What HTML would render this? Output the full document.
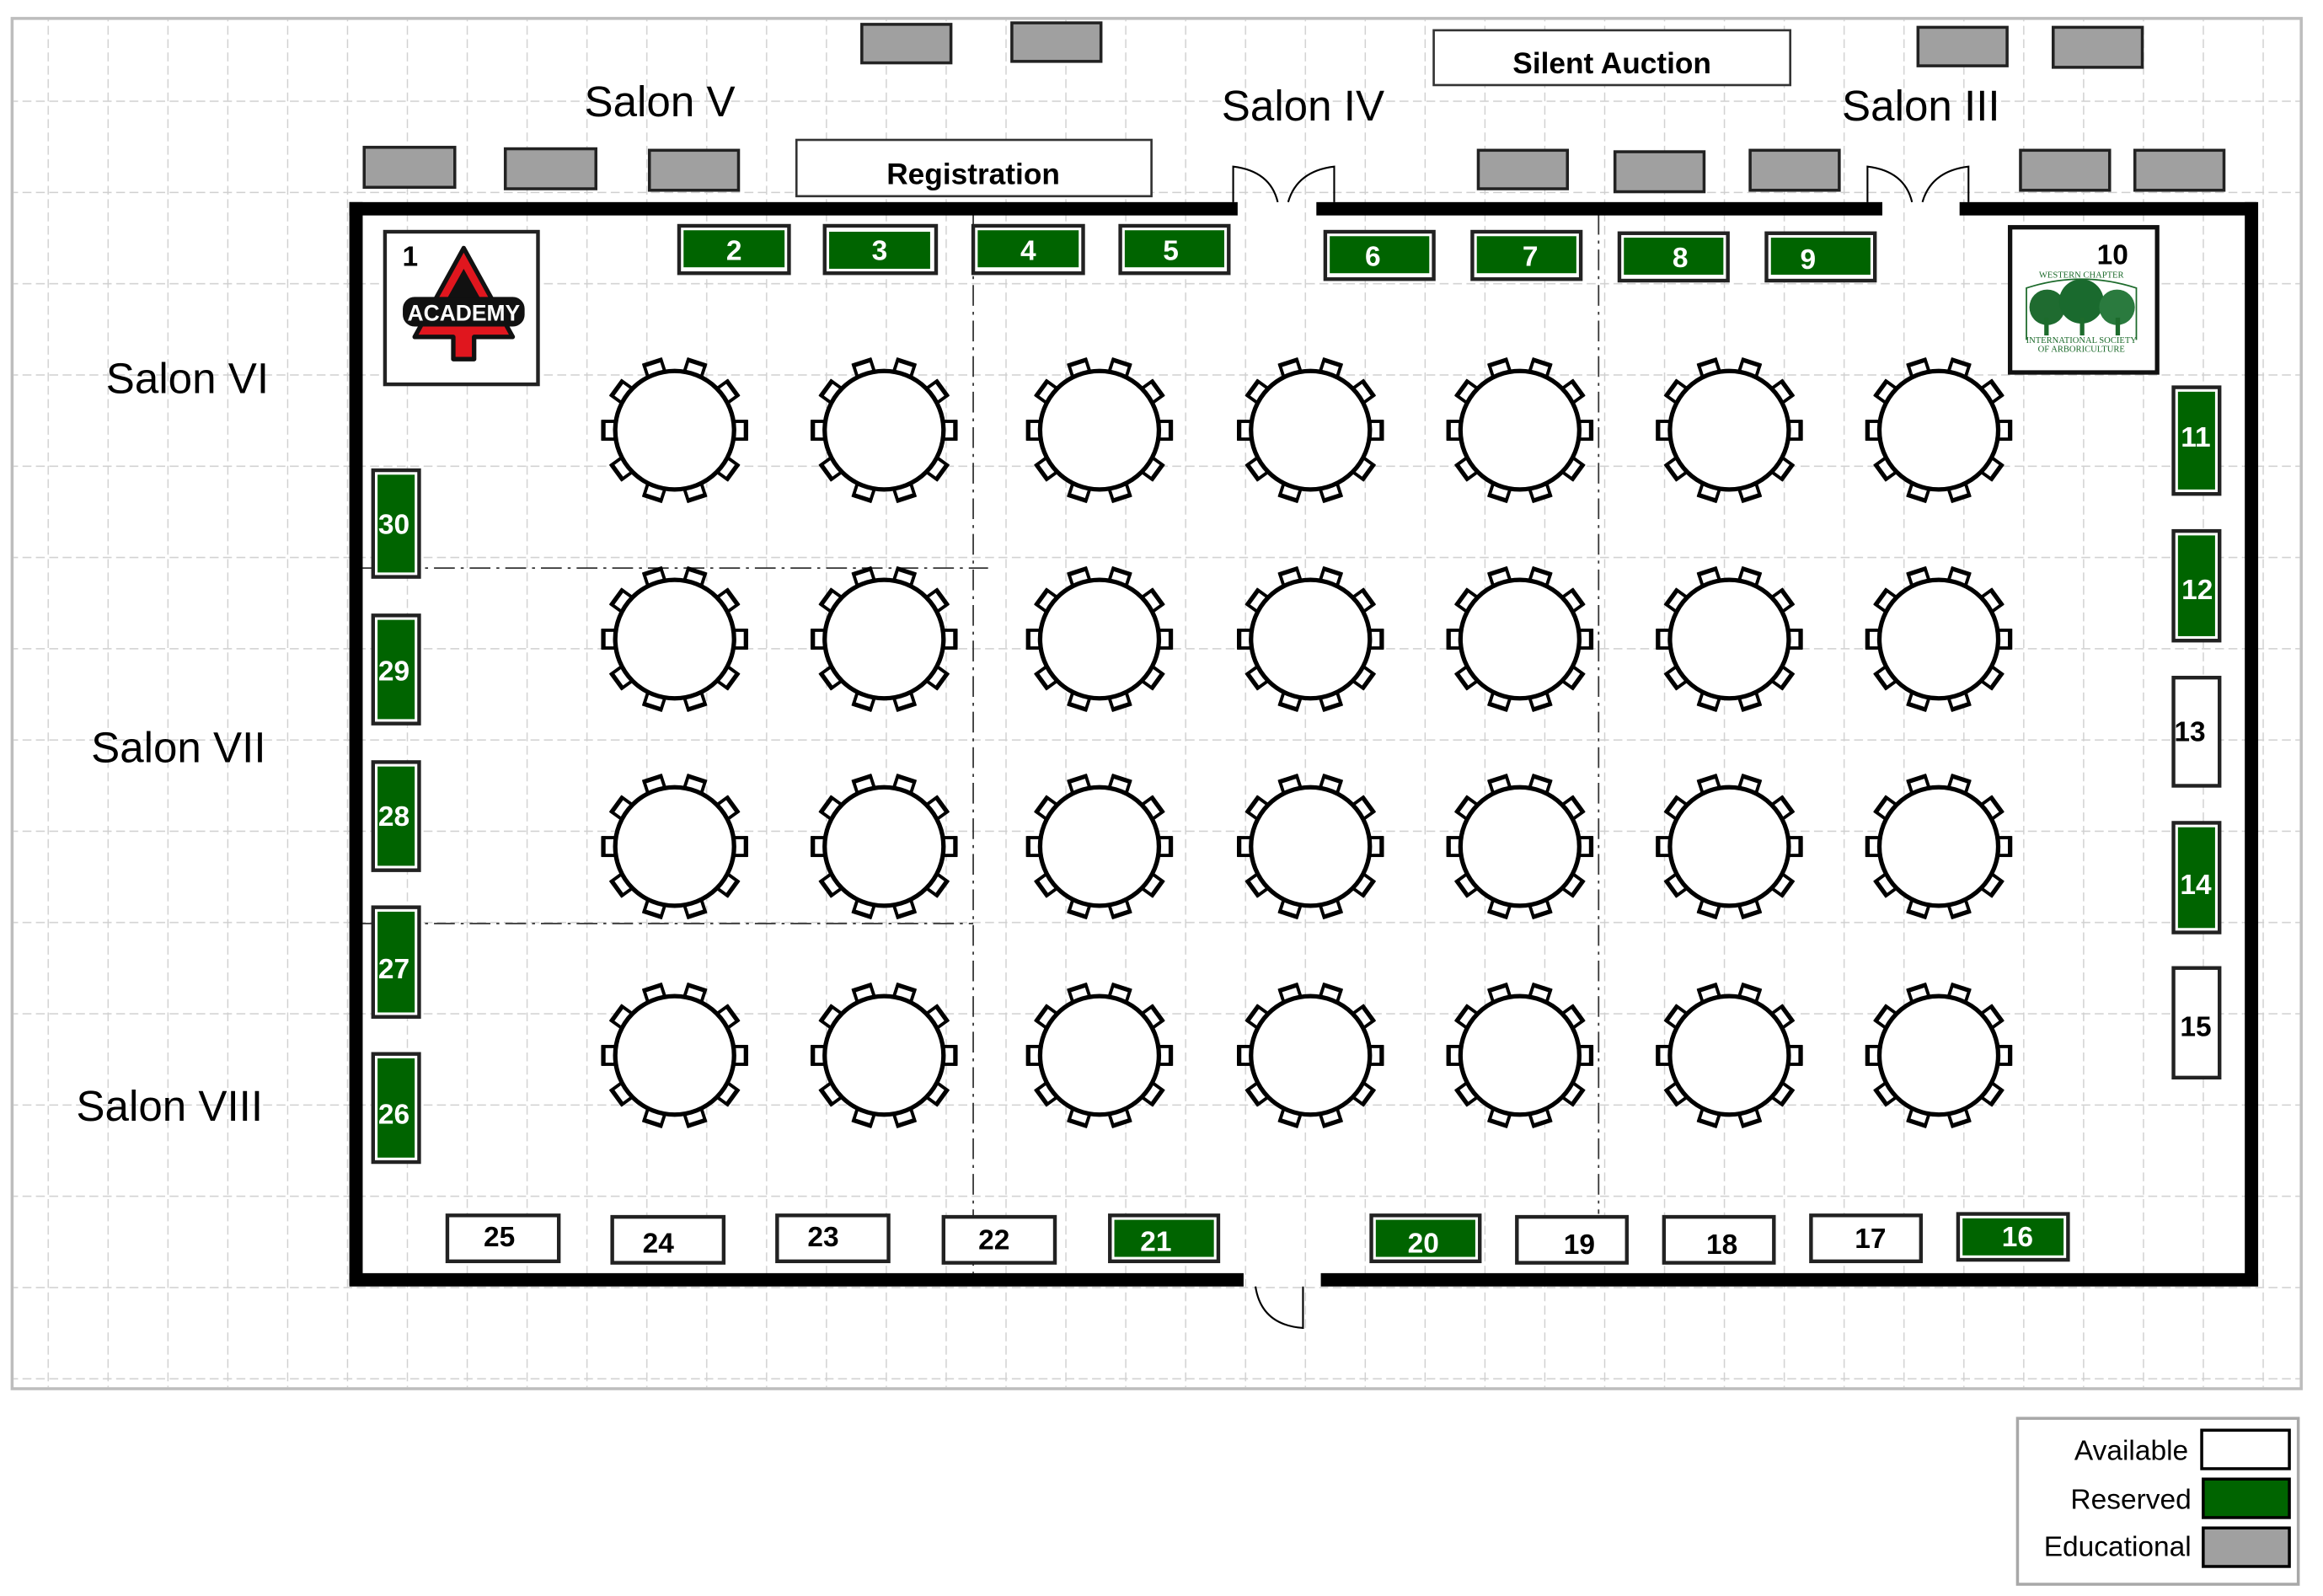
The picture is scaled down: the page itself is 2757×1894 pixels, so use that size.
<!DOCTYPE html>
<html><head><meta charset="utf-8"><style>
html,body{margin:0;padding:0;background:#fff;}
svg{display:block;}
text{font-family:"Liberation Sans",sans-serif;}
.b{font-weight:bold;font-size:19px;text-anchor:middle;}
.w{fill:#fff;}
.salon{font-size:29px;text-anchor:middle;}
</style></head><body>
<svg width="2757" height="1894" viewBox="0 0 2757 1894" xmlns="http://www.w3.org/2000/svg">
<defs>
<pattern id="gv" patternUnits="userSpaceOnUse" x="276.6" y="0" width="40.3" height="2000">
<line x1="0.5" y1="0" x2="0.5" y2="2000" stroke="#cfcfcf" stroke-width="0.8" stroke-dasharray="6,3"/>
</pattern>
<pattern id="gh" patternUnits="userSpaceOnUse" x="0" y="130" width="2000" height="61.6">
<line x1="0" y1="0.5" x2="2000" y2="0.5" stroke="#cfcfcf" stroke-width="0.8" stroke-dasharray="6,3"/>
</pattern>
<g id="chair">
<rect x="40" y="-6" width="8" height="12" fill="#fff" stroke="#000" stroke-width="2.2"/>
<line x1="48" y1="-7" x2="48" y2="7" stroke="#000" stroke-width="3"/>
</g>
<g id="tbl">
<use href="#chair" transform="rotate(0)"/><use href="#chair" transform="rotate(36)"/>
<use href="#chair" transform="rotate(72)"/><use href="#chair" transform="rotate(108)"/>
<use href="#chair" transform="rotate(144)"/><use href="#chair" transform="rotate(180)"/>
<use href="#chair" transform="rotate(216)"/><use href="#chair" transform="rotate(252)"/>
<use href="#chair" transform="rotate(288)"/><use href="#chair" transform="rotate(324)"/>
<circle r="40" fill="#fff" stroke="#000" stroke-width="3"/>
</g>
</defs>
<rect width="2757" height="1894" fill="#fff"/>
<g transform="translate(-5,-1) scale(1.763,1.758)">
<rect x="11" y="13" width="1541" height="925" fill="#fff" stroke="#bdbdbd" stroke-width="2"/>
<rect x="12" y="14" width="1539" height="923" fill="url(#gv)"/>
<rect x="12" y="14" width="1539" height="923" fill="url(#gh)"/>
<g stroke="#333" stroke-width="1" stroke-dasharray="14,4,2,4" fill="none">
<line x1="658" y1="145" x2="658" y2="860"/>
<line x1="1079" y1="145" x2="1079" y2="820"/>
<line x1="247" y1="384" x2="668" y2="384"/>
<line x1="247" y1="624" x2="658" y2="624"/>
</g>
<g fill="#000">
<rect x="238" y="137" width="598" height="9"/>
<rect x="889" y="137" width="381" height="9"/>
<rect x="1322" y="137" width="200" height="9"/>
<rect x="238" y="137" width="9" height="731"/>
<rect x="1514" y="137" width="9" height="731"/>
<rect x="238" y="860" width="602" height="9"/>
<rect x="892" y="860" width="631" height="9"/>
</g>
<g fill="none" stroke="#000" stroke-width="1.2">
<path d="M833 137 V113 Q858 116 863 137"/>
<path d="M901 137 V113 Q876 116 870 137"/>
<path d="M1260 137 V113 Q1285 116 1290 137"/>
<path d="M1328 137 V113 Q1303 116 1297 137"/>
<path d="M848 869 Q852 895 880 897 V869"/>
</g>
<g>
<use href="#tbl" x="457" y="291"/><use href="#tbl" x="598" y="291"/><use href="#tbl" x="743" y="291"/><use href="#tbl" x="885" y="291"/><use href="#tbl" x="1026" y="291"/><use href="#tbl" x="1167" y="291"/><use href="#tbl" x="1308" y="291"/>
<use href="#tbl" x="457" y="432"/><use href="#tbl" x="598" y="432"/><use href="#tbl" x="743" y="432"/><use href="#tbl" x="885" y="432"/><use href="#tbl" x="1026" y="432"/><use href="#tbl" x="1167" y="432"/><use href="#tbl" x="1308" y="432"/>
<use href="#tbl" x="457" y="572"/><use href="#tbl" x="598" y="572"/><use href="#tbl" x="743" y="572"/><use href="#tbl" x="885" y="572"/><use href="#tbl" x="1026" y="572"/><use href="#tbl" x="1167" y="572"/><use href="#tbl" x="1308" y="572"/>
<use href="#tbl" x="457" y="713"/><use href="#tbl" x="598" y="713"/><use href="#tbl" x="743" y="713"/><use href="#tbl" x="885" y="713"/><use href="#tbl" x="1026" y="713"/><use href="#tbl" x="1167" y="713"/><use href="#tbl" x="1308" y="713"/>
</g>
<g fill="#a0a0a0" stroke="#222" stroke-width="2">
<rect x="583" y="17" width="60" height="26"/><rect x="684" y="16" width="60" height="26"/>
<rect x="1294" y="19" width="60" height="26"/><rect x="1385" y="19" width="60" height="27"/>
<rect x="248" y="100" width="61" height="27"/><rect x="343" y="101" width="61" height="27"/><rect x="440" y="102" width="60" height="27"/>
<rect x="998" y="102" width="60" height="26"/><rect x="1090" y="103" width="60" height="27"/><rect x="1181" y="102" width="60" height="27"/>
<rect x="1363" y="102" width="60" height="27"/><rect x="1440" y="102" width="60" height="27"/>
</g>
<rect x="539" y="95" width="239" height="38" fill="#fff" stroke="#333" stroke-width="1.5"/>
<text x="658" y="125" style="font-size:20px;font-weight:bold;text-anchor:middle">Registration</text>
<rect x="968" y="21" width="240" height="37" fill="#fff" stroke="#333" stroke-width="1.5"/>
<text x="1088" y="50" style="font-size:20px;font-weight:bold;text-anchor:middle">Silent  Auction</text>
<text class="salon" x="447" y="79">Salon V</text>
<text class="salon" x="880" y="82">Salon IV</text>
<text class="salon" x="1296" y="82">Salon III</text>
<text class="salon" x="129" y="266">Salon VI</text>
<text class="salon" x="123" y="515">Salon VII</text>
<text class="salon" x="117" y="757">Salon VIII</text>
<g stroke="#222" stroke-width="2.5" fill="#fff">
<rect x="460" y="153" width="74" height="32"/><rect x="558" y="153" width="75" height="32"/><rect x="658" y="153" width="74" height="32"/><rect x="757" y="153" width="73" height="32"/>
<rect x="895" y="157" width="73" height="32"/><rect x="994" y="157" width="73" height="32"/><rect x="1093" y="158" width="73" height="32"/><rect x="1192" y="158" width="73" height="32"/>
<rect x="1466" y="262" width="31" height="72"/><rect x="1466" y="359" width="31" height="74"/><rect x="1466" y="458" width="31" height="73"/><rect x="1466" y="556" width="31" height="74"/><rect x="1466" y="654" width="31" height="74"/>
<rect x="254" y="318" width="31" height="72"/><rect x="254" y="416" width="31" height="73"/><rect x="254" y="515" width="31" height="73"/><rect x="254" y="613" width="31" height="74"/><rect x="254" y="712" width="31" height="73"/>
<rect x="304" y="821" width="75" height="31"/><rect x="415" y="822" width="75" height="31"/><rect x="526" y="821" width="75" height="31"/><rect x="638" y="822" width="75" height="31"/><rect x="750" y="821" width="73" height="31"/>
<rect x="926" y="821" width="73" height="31"/><rect x="1024" y="822" width="74" height="31"/><rect x="1123" y="822" width="74" height="31"/><rect x="1222" y="821" width="74" height="31"/><rect x="1321" y="820" width="74" height="31"/>
</g>
<g fill="#006400">
<rect x="463" y="156" width="68" height="25"/><rect x="561" y="157" width="68" height="25"/><rect x="661" y="156" width="68" height="25"/><rect x="760" y="156" width="67" height="25"/>
<rect x="898" y="160" width="67" height="25"/><rect x="997" y="160" width="67" height="25"/><rect x="1096" y="161" width="67" height="25"/><rect x="1195" y="161" width="67" height="25"/>
<rect x="1469" y="265" width="25" height="66"/><rect x="1469" y="362" width="25" height="68"/><rect x="1469" y="559" width="25" height="68"/>
<rect x="257" y="321" width="25" height="66"/><rect x="257" y="419" width="25" height="67"/><rect x="257" y="518" width="25" height="67"/><rect x="257" y="616" width="25" height="68"/><rect x="257" y="715" width="25" height="67"/>
<rect x="753" y="824" width="67" height="25"/><rect x="929" y="824" width="67" height="25"/><rect x="1324" y="823" width="68" height="25"/>
</g>
<g class="b">
<text class="b w" x="497" y="176">2</text><text class="b w" x="595" y="176">3</text><text class="b w" x="695" y="176">4</text><text class="b w" x="791" y="176">5</text>
<text class="b w" x="927" y="180">6</text><text class="b w" x="1033" y="180">7</text><text class="b w" x="1134" y="181">8</text><text class="b w" x="1220" y="182">9</text>
<text class="b w" x="1481" y="302">11</text><text class="b w" x="1482" y="405">12</text><text class="b" x="1477" y="501">13</text><text class="b w" x="1481" y="604">14</text><text class="b" x="1481" y="700">15</text>
<text class="b w" x="268" y="361">30</text><text class="b w" x="268" y="460">29</text><text class="b w" x="268" y="558">28</text><text class="b w" x="268" y="661">27</text><text class="b w" x="268" y="759">26</text>
<text class="b" x="339" y="842">25</text><text class="b" x="446" y="846">24</text><text class="b" x="557" y="842">23</text><text class="b" x="672" y="844">22</text><text class="b w" x="781" y="845">21</text>
<text class="b w" x="961" y="846">20</text><text class="b" x="1066" y="847">19</text><text class="b" x="1162" y="847">18</text><text class="b" x="1262" y="843">17</text><text class="b w" x="1361" y="842">16</text>
</g>
<rect x="262" y="157" width="103" height="103" fill="#fff" stroke="#222" stroke-width="2.5"/>
<text x="279" y="180" style="font-size:19px;font-weight:bold;text-anchor:middle">1</text>
<path d="M315 168 L348 228 L322 228 L322 243 L308 243 L308 228 L282 228 Z" fill="#e0161e" stroke="#111" stroke-width="3" stroke-linejoin="round"/>
<path d="M315 182 L334 216 L296 216 Z" fill="#111"/>
<rect x="274" y="201" width="82" height="20" rx="8" fill="#111"/>
<text x="315" y="217" style="font-size:15px;font-weight:bold;text-anchor:middle;fill:#fff">ACADEMY</text>
<rect x="1356" y="154" width="99" height="98" fill="#fff" stroke="#111" stroke-width="3"/>
<text x="1425" y="179" style="font-size:19px;font-weight:bold;text-anchor:middle">10</text>
<text x="1404" y="188" style="font-size:6px;font-family:'Liberation Serif',serif;text-anchor:middle;fill:#1d6b2c">WESTERN CHAPTER</text>
<path d="M1367 230 V195 Q1404 183 1441 195 V230" fill="none" stroke="#1d6b2c" stroke-width="1"/>
<circle cx="1381" cy="208" r="12" fill="#1f6b30"/><circle cx="1404" cy="204" r="15" fill="#1a6a2e"/><circle cx="1428" cy="208" r="12" fill="#2a7a3e"/>
<rect x="1379" y="215" width="3" height="12" fill="#1d6b2c"/><rect x="1403" y="215" width="3" height="12" fill="#1d6b2c"/><rect x="1427" y="215" width="3" height="12" fill="#1d6b2c"/>
<text x="1404" y="232" style="font-size:6px;font-family:'Liberation Serif',serif;text-anchor:middle;fill:#1d6b2c">INTERNATIONAL SOCIETY</text>
<text x="1404" y="238" style="font-size:6px;font-family:'Liberation Serif',serif;text-anchor:middle;fill:#1d6b2c">OF ARBORICULTURE</text>
<rect x="1361" y="958" width="189" height="112" fill="#fff" stroke="#a8a8a8" stroke-width="2"/>
<g style="font-size:19px;text-anchor:end">
<text x="1476" y="986">Available</text>
<text x="1478" y="1019">Reserved</text>
<text x="1478" y="1051">Educational</text>
</g>
<rect x="1485" y="966" width="59" height="26" fill="#fff" stroke="#000" stroke-width="2"/>
<rect x="1486" y="999" width="58" height="26" fill="#006400" stroke="#000" stroke-width="2"/>
<rect x="1486" y="1032" width="58" height="26" fill="#a0a0a0" stroke="#000" stroke-width="2"/>
</g>
</svg>
</body></html>
